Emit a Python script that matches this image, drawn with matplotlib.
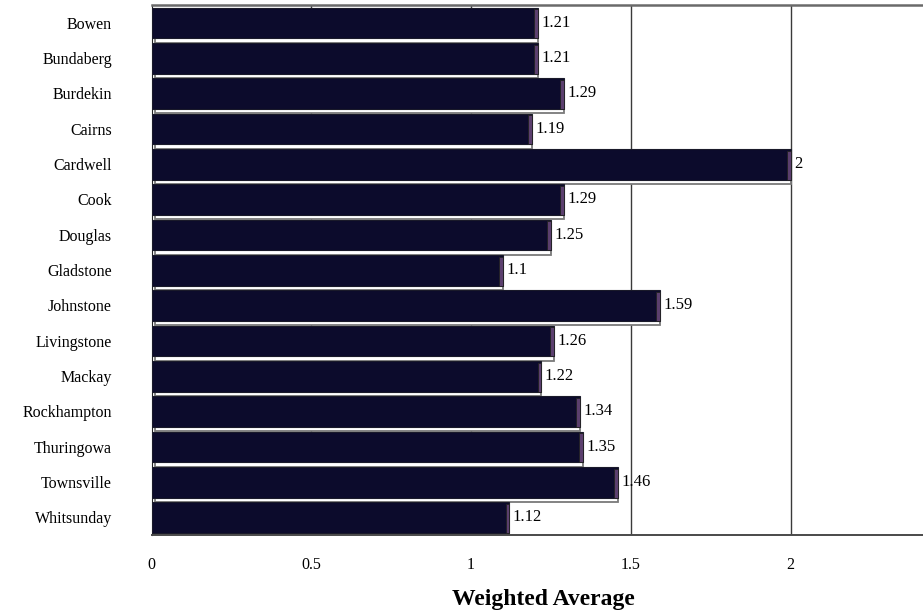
## horizontal bar chart of weighted averages by region (3D-ish Excel look)
import numpy as np
import matplotlib.pyplot as plt
from matplotlib.patches import Rectangle

plt.rc('font', family=['Liberation Serif', 'DejaVu Serif'])

regions = ['Bowen', 'Bundaberg', 'Burdekin', 'Cairns', 'Cardwell', 'Cook', 'Douglas',
           'Gladstone', 'Johnstone', 'Livingstone', 'Mackay', 'Rockhampton',
           'Thuringowa', 'Townsville', 'Whitsunday']
values = [1.21, 1.21, 1.29, 1.19, 2, 1.29, 1.25, 1.1, 1.59, 1.26, 1.22, 1.34, 1.35, 1.46, 1.12]
value_labels = ['1.21', '1.21', '1.29', '1.19', '2', '1.29', '1.25', '1.1', '1.59', '1.26',
                '1.22', '1.34', '1.35', '1.46', '1.12']
xticks = [0, 0.5, 1, 1.5, 2]
xtick_labels = ['0', '0.5', '1', '1.5', '2']

W, H = 923, 615
fig = plt.figure(figsize=(W/100, H/100), dpi=100)
# plot area runs past the right edge of the picture, like the cropped original
x0, x1 = 151.5, 950.5
y_top, y_bot = 5, 535
ax = fig.add_axes([x0/W, 1 - y_bot/H, (x1 - x0)/W, (y_bot - y_top)/H])

ax.set_xlim(0, 2.5)
ax.set_ylim(len(regions) - 0.5, -0.5)

for xv in xticks[1:]:
    ax.axvline(xv, color='#3a3a3a', lw=1.0, zorder=0)

ypos = np.arange(len(regions))
face_h = 0.86
# floor strip under each bar
for y, v in zip(ypos, values):
    ax.add_patch(Rectangle((0.01, y + 0.44), v - 0.01, 0.13, facecolor='white',
                           edgecolor='#7a7a7a', lw=1.3, zorder=2))
ax.barh(ypos - 0.42 + face_h/2, values, height=face_h, color='#0c0b2c',
        edgecolor='#1a1a2a', lw=0.8, zorder=3)
# right-hand side face of the bars
for y, v in zip(ypos, values):
    ax.add_patch(Rectangle((v - 0.012, y - 0.38), 0.012, 0.82, facecolor='#5b3f6e',
                           edgecolor='#222', lw=0.6, zorder=4))

for y, v, lab in zip(ypos, values, value_labels):
    ax.annotate(lab, (v, y), xytext=(2.5, 0), textcoords='offset points',
                va='center', ha='left', fontsize=12)

ax.set_yticks(ypos)
ax.set_yticklabels(regions, fontsize=11.5)
ax.set_xticks(xticks)
ax.set_xticklabels(xtick_labels, fontsize=11.5)
ax.tick_params(axis='y', length=0, pad=28.5)
ax.tick_params(axis='x', length=0, pad=16)

ax.spines['top'].set_color('#6a6a6a')
ax.spines['top'].set_linewidth(1.8)
ax.spines['bottom'].set_color('#4a4a4a')
ax.spines['bottom'].set_linewidth(1.4)
ax.spines['left'].set_color('#222')
ax.spines['right'].set_visible(False)

fig.text(543/W, 1 - 599/H, 'Weighted Average', ha='center', va='center',
         fontsize=17, fontweight='bold')

plt.savefig('out.png', dpi=100)
